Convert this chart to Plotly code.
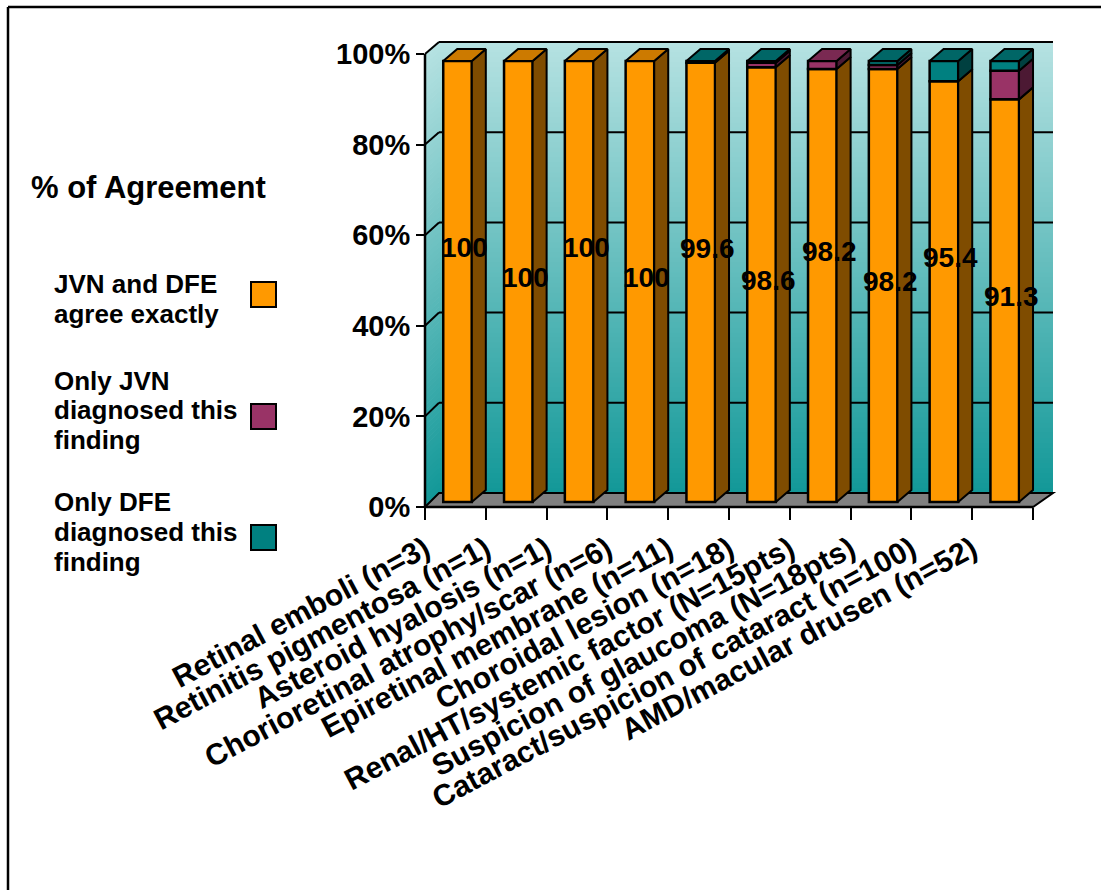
import plotly.graph_objects as go

# ---------------- data ----------------
categories = [
    "Retinal emboli (n=3)",
    "Retinitis pigmentosa (n=1)",
    "Asteroid hyalosis (n=1)",
    "Chorioretinal atrophy/scar (n=6)",
    "Epiretinal membrane (n=11)",
    "Choroidal lesion (n=18)",
    "Renal/HT/systemic factor (N=15pts)",
    "Suspicion of glaucoma (N=18pts)",
    "Cataract/suspicion of cataract (n=100)",
    "AMD/macular drusen (n=52)",
]
agree_exactly = [100, 100, 100, 100, 99.6, 98.6, 98.2, 98.2, 95.4, 91.3]
only_jvn = [0, 0, 0, 0, 0, 1.0, 1.8, 0.9, 0, 6.5]
only_dfe = [0, 0, 0, 0, 0.4, 0.4, 0, 0.9, 4.6, 2.2]
series_names = ["JVN and DFE agree exactly",
                "Only JVN diagnosed this finding",
                "Only DFE diagnosed this finding"]
y_tick_values = [0, 20, 40, 60, 80, 100]
y_tick_labels = ["0%", "20%", "40%", "60%", "80%", "100%"]
legend_title = "% of Agreement"
legend_lines = [["JVN and DFE", "agree exactly"],
                ["Only JVN", "diagnosed this", "finding"],
                ["Only DFE", "diagnosed this", "finding"]]

# ---------------- styles ----------------
front_colors = ["#FF9900", "#993366", "#008080"]
side_colors = ["#7F4C00", "#4C1933", "#004040"]
top_colors = ["#CC7A00", "#7A2952", "#006666"]
FONT = "Liberation Sans, Arial, sans-serif"

W, H = 1101, 890
L, R, T, B = 425, 1055, 40, 507          # plot area in px
UX = 60.8                                 # px per category
BAR_Y0, BAR_UY = 502, 4.41                # bar scale
FRONT_UY = 4.53                           # front axis scale
BACK_Y0, BACK_UY = 493, 4.51              # back wall scale
BACK_X0, BACK_X1 = 439, 1053
DEPTH_PX, DEPTH_PY = 14, 12

def PX(px):
    return (px - L) / (R - L)

def PY(py):
    return (B - py) / (B - T)

n = len(categories)
xpos = list(range(n))
OFF, WID = -0.2, 0.47
dx = DEPTH_PX / UX
dy = DEPTH_PY / BAR_UY

fig = go.Figure()

segments = [agree_exactly, only_jvn, only_dfe]
bases = []
run = [0.0] * n
for seg in segments:
    bases.append(list(run))
    run = [r + s for r, s in zip(run, seg)]

# front faces
for k, seg in enumerate(segments):
    fig.add_trace(go.Bar(
        x=xpos, y=[v if v > 0 else None for v in seg], base=bases[k],
        offset=OFF, width=WID, name=series_names[k],
        marker=dict(color=front_colors[k], line=dict(color="black", width=2.5)),
        showlegend=False, hoverinfo="skip",
    ))

# side faces
for k, seg in enumerate(segments):
    xs, ys = [], []
    for i in range(n):
        if seg[i] <= 0:
            continue
        b0 = bases[k][i]
        b1 = b0 + seg[i]
        xr = i + OFF + WID
        xs += [xr, xr + dx, xr + dx, xr, xr, None]
        ys += [b0, b0 + dy, b1 + dy, b1, b0, None]
    fig.add_trace(go.Scatter(x=xs, y=ys, mode="lines", fill="toself",
                             fillcolor=side_colors[k],
                             line=dict(color="black", width=2),
                             showlegend=False, hoverinfo="skip"))

# top faces (on the topmost non-zero segment)
for k in range(3):
    xs, ys = [], []
    for i in range(n):
        top_k = max(j for j in range(3) if segments[j][i] > 0)
        if top_k != k:
            continue
        Ttop = bases[k][i] + segments[k][i]
        xl = i + OFF
        xr = xl + WID
        xs += [xl, xl + dx, xr + dx, xr, xl, None]
        ys += [Ttop, Ttop + dy, Ttop + dy, Ttop, Ttop, None]
    fig.add_trace(go.Scatter(x=xs, y=ys, mode="lines", fill="toself",
                             fillcolor=top_colors[k],
                             line=dict(color="black", width=2),
                             showlegend=False, hoverinfo="skip"))

# dummy trace to activate yaxis2 (front tick axis)
fig.add_trace(go.Scatter(x=[None], y=[None], yaxis="y2", showlegend=False))

# ---------------- walls ----------------
shapes = []
c0 = (18, 152, 152)
c1 = (182, 226, 226)
NS = 90
for s in range(NS):
    f0, f1 = s / NS, (s + 1) / NS
    fm = (f0 + f1) / 2
    col = "rgb(%d,%d,%d)" % tuple(round(a + (b - a) * fm) for a, b in zip(c0, c1))
    v0, v1 = 100 * f0, 100 * f1
    shapes.append(dict(type="rect", xref="paper", yref="paper", layer="below",
                       x0=PX(BACK_X0), x1=PX(BACK_X1),
                       y0=PY(BACK_Y0 - BACK_UY * v0), y1=PY(BACK_Y0 - BACK_UY * v1) + 0.002,
                       fillcolor=col, line=dict(width=0)))
    p = "M %f %f L %f %f L %f %f L %f %f Z" % (
        PX(L), PY(B - FRONT_UY * v0),
        PX(L + DEPTH_PX), PY(BACK_Y0 - BACK_UY * v0),
        PX(L + DEPTH_PX), PY(BACK_Y0 - BACK_UY * v1) + 0.002,
        PX(L), PY(B - FRONT_UY * v1) + 0.002)
    shapes.append(dict(type="path", xref="paper", yref="paper", layer="below",
                       path=p, fillcolor=col, line=dict(width=0)))

for v in y_tick_values[1:]:
    yb = PY(BACK_Y0 - BACK_UY * v)
    shapes.append(dict(type="line", xref="paper", yref="paper", layer="below",
                       x0=PX(BACK_X0), x1=PX(BACK_X1), y0=yb, y1=yb,
                       line=dict(color="black", width=2)))
    shapes.append(dict(type="line", xref="paper", yref="paper", layer="below",
                       x0=PX(L), y0=PY(B - FRONT_UY * v), x1=PX(L + DEPTH_PX), y1=yb,
                       line=dict(color="black", width=2)))

floor = "M %f %f L %f %f L %f %f L %f %f Z" % (
    PX(L), PY(B), PX(L + DEPTH_PX), PY(BACK_Y0),
    PX(BACK_X1), PY(BACK_Y0), PX(L + UX * n), PY(B))
shapes.append(dict(type="path", xref="paper", yref="paper", layer="below",
                   path=floor, fillcolor="#808080", line=dict(color="black", width=2)))

shapes.append(dict(type="line", xref="paper", yref="paper", layer="above",
                   x0=PX(L), x1=PX(L), y0=PY(B), y1=PY(B - FRONT_UY * 100),
                   line=dict(color="black", width=2.5)))
shapes.append(dict(type="line", xref="paper", yref="paper", layer="above",
                   x0=PX(L), x1=PX(L + UX * n), y0=PY(B), y1=PY(B),
                   line=dict(color="black", width=2.5)))

shapes.append(dict(type="line", xref="paper", yref="paper", layer="above",
                   x0=PX(8), x1=PX(8), y0=PY(7), y1=PY(H + 5),
                   line=dict(color="black", width=2.5)))
shapes.append(dict(type="line", xref="paper", yref="paper", layer="above",
                   x0=PX(8), x1=PX(W + 5), y0=PY(7), y1=PY(7),
                   line=dict(color="black", width=2.5)))

swatch_y = [282, 404, 525]
for k, yy in enumerate(swatch_y):
    shapes.append(dict(type="rect", xref="paper", yref="paper", layer="above",
                       x0=PX(251), x1=PX(276), y0=PY(yy), y1=PY(yy + 25),
                       fillcolor=front_colors[k], line=dict(color="black", width=2)))

# ---------------- annotations ----------------
ann = []
for i, v in enumerate(agree_exactly):
    ann.append(dict(x=i + OFF + WID / 2 + dx / 2, y=v / 2, xref="x", yref="y",
                    text="%g" % v, showarrow=False,
                    yshift=34 if i % 2 == 0 else 4,
                    font=dict(family=FONT, size=28, color="black", weight="bold")))

ann.append(dict(x=PX(29), y=PY(187), xref="paper", yref="paper", xanchor="left",
                yanchor="middle", text=legend_title, showarrow=False,
                font=dict(family=FONT, size=31, color="black", weight="bold")))

line_y = [[284, 314], [381, 410, 440], [502, 532, 562]]
for k in range(3):
    for txt, yy in zip(legend_lines[k], line_y[k]):
        ann.append(dict(x=PX(52), y=PY(yy), xref="paper", yref="paper",
                        xanchor="left", yanchor="middle", text=txt, showarrow=False,
                        font=dict(family=FONT, size=26, color="black", weight="bold")))

fig.update_layout(
    width=W, height=H,
    margin=dict(l=L, r=W - R, t=T, b=H - B, pad=0),
    paper_bgcolor="white", plot_bgcolor="rgba(0,0,0,0)",
    barmode="overlay", showlegend=False,
    shapes=shapes, annotations=ann,
    xaxis=dict(range=[-0.5, -0.5 + (R - L) / UX],
               tickmode="array",
               tickvals=[i - 0.5 for i in range(n + 1)],
               ticktext=categories + [""],
               tickangle=-28, ticks="outside", ticklen=12, tickwidth=2,
               tickcolor="black", showgrid=False, zeroline=False, showline=False,
               automargin=False,
               tickfont=dict(family=FONT, size=30, color="black", weight="bold")),
    yaxis=dict(range=[-(B - BAR_Y0) / BAR_UY, (BAR_Y0 - T) / BAR_UY],
               visible=False, fixedrange=True),
    yaxis2=dict(range=[0, (B - T) / FRONT_UY], overlaying="y", side="left",
                anchor="x", tickmode="array", tickvals=y_tick_values,
                ticktext=y_tick_labels, ticks="outside", ticklen=8, tickwidth=2,
                tickcolor="black", showgrid=False, zeroline=False, showline=False,
                automargin=False,
                tickfont=dict(family=FONT, size=29, color="black", weight="bold")),
)

fig.write_html("out.html")
